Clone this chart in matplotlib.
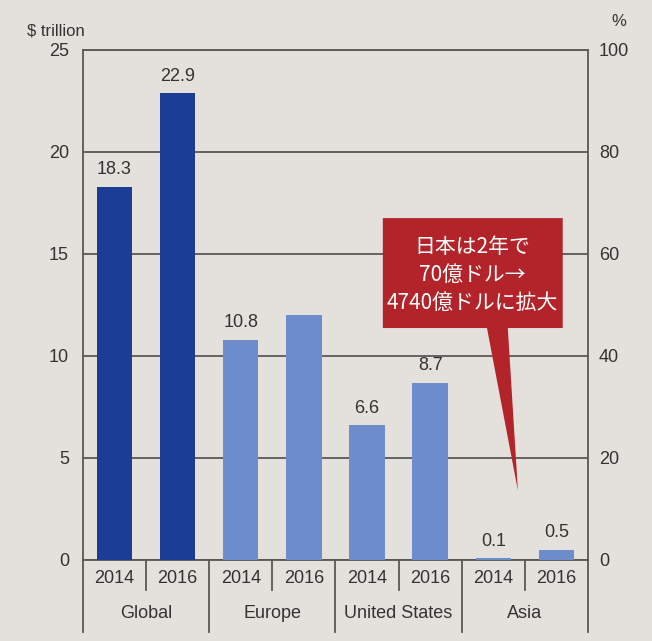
import matplotlib.pyplot as plt
from matplotlib.patches import Polygon
import matplotlib.transforms as mtransforms

# market size by region, 2014 vs 2016
groups = ['Global', 'Europe', 'United States', 'Asia']
years = ['2014', '2016']
values = [18.3, 22.9, 10.8, 12.0, 6.6, 8.7, 0.1, 0.5]
value_labels = ['18.3', '22.9', '10.8', '', '6.6', '8.7', '0.1', '0.5']
callout = '日本は2年で\n70億ドル→\n4740億ドルに拡大'

paper = '#e4e1dd'
ink = '#333333'
line_c = '#5a5856'
dark_blue = '#1b3d95'
light_blue = '#6c8ccb'
red = '#b3242a'

plt.rcParams['font.family'] = ['Liberation Sans', 'DejaVu Sans']

fig = plt.figure(figsize=(6.52, 6.41), dpi=100, facecolor=paper)
ax = fig.add_axes([0.1273, 0.1264, 0.7745, 0.7956])
ax.set_facecolor(paper)

x = list(range(len(values)))
colors = [dark_blue if i < 2 else light_blue for i in x]
bars = ax.bar(x, values, width=0.56, color=colors, zorder=3)

for b, lab in zip(bars, value_labels):
    ax.annotate(lab, (b.get_x() + b.get_width() / 2, b.get_height()),
                xytext=(0, 6), textcoords='offset points',
                ha='center', va='bottom', fontsize=13, color=ink)

ax.set_xlim(-0.5, len(values) - 0.5)
ax.set_ylim(0, 25)
ax.set_yticks([0, 5, 10, 15, 20, 25])
ax.grid(axis='y', color=line_c, linewidth=1.3, zorder=1)
ax.set_xticks([])
ax.tick_params(axis='y', length=0, pad=10, labelsize=13, labelcolor=ink)
for s in ax.spines.values():
    s.set_color(line_c)
    s.set_linewidth(1.3)

ax2 = ax.twinx()
ax2.set_ylim(0, 100)
ax2.set_yticks([0, 20, 40, 60, 80, 100])
ax2.tick_params(axis='y', length=0, pad=8, labelsize=13, labelcolor=ink)
for s in ax2.spines.values():
    s.set_visible(False)

# two-level category axis under the bars
trans = mtransforms.blended_transform_factory(ax.transData, ax.transAxes)
for i in range(len(values) + 1):
    bottom = -0.141 if i % 2 == 0 else -0.059
    ax.plot([i - 0.5, i - 0.5], [0, bottom], transform=trans,
            color=line_c, linewidth=1.3, clip_on=False)
for i in x:
    ax.text(i, -0.037, years[i % 2], transform=trans, ha='center', va='center',
            fontsize=13, color=ink)
for g, name in enumerate(groups):
    ax.text(2 * g + 0.5, -0.104, name, transform=trans, ha='center', va='center',
            fontsize=13, color=ink)

fig.text(27 / 652, 1 - 31 / 641, '$ trillion', ha='left', va='center',
         fontsize=12, color=ink)
fig.text(619 / 652, 1 - 22 / 641, '%', ha='center', va='center',
         fontsize=12, color=ink)

# red speech-bubble callout pointing at Asia
bubble = [(4.25, 16.76), (7.1, 16.76), (7.1, 11.37), (6.23, 11.37),
          (6.39, 3.4), (5.9, 11.37), (4.25, 11.37)]
ax.add_patch(Polygon(bubble, closed=True, facecolor=red, edgecolor='none',
                     zorder=5))
ax.text(5.675, 13.95, callout, ha='center', va='center', color='white',
        fontsize=15, linespacing=1.35, zorder=6,
        family=['Noto Sans CJK JP', 'DejaVu Sans'])

fig.savefig('out.png', dpi=100, facecolor=paper)
